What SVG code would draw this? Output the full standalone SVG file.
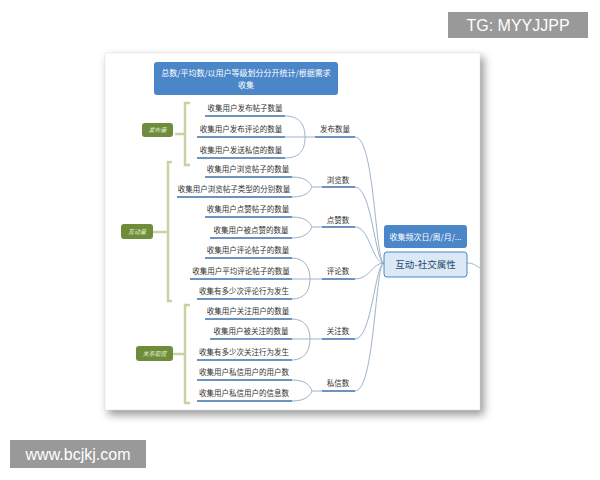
<svg xmlns="http://www.w3.org/2000/svg" width="600" height="480" viewBox="0 0 600 480">
<defs>
<filter id="sh" x="-10%" y="-10%" width="130%" height="130%"><feGaussianBlur stdDeviation="4"/></filter>
<style>
.t{font-family:"Noto Sans CJK SC",sans-serif;font-size:7.5px;fill:#333;text-anchor:middle}
.u{stroke:#3d6fa8;stroke-width:1.5}
.c{fill:none;stroke:#9fb3c8;stroke-width:1}
.b{fill:none;stroke:#c7d3a3;stroke-width:2.5}
.g{fill:#6e8d3a}
.gt{font-family:"Noto Sans CJK SC",sans-serif;font-size:6px;fill:#e8f0d8;font-style:italic;text-anchor:middle}
</style>
</defs>
<rect width="600" height="480" fill="#fff"/>
<rect x="108" y="57" width="376" height="358" fill="#999" filter="url(#sh)"/>
<rect x="105" y="53" width="375" height="357" fill="#fff" stroke="#ddd" stroke-width="0.5"/>
<g id="top"><rect x="154" y="62" width="184" height="33" rx="3" fill="#4a86c8"/>
<text x="246" y="76" class="t" style="fill:#fff;font-size:8px">总数/平均数/以用户等级划分分开统计/根据需求</text>
<text x="246" y="88" class="t" style="fill:#fff;font-size:8px">收集</text></g>
<g id="connectors">
<path class="c" d="M285,116 C300,116 305,125 305,137 M285,158 C300,158 305,150 305,137 M285,137 H315"/>
<path class="c" d="M292,177 C305,177 310,182 312,187 M292,197 C305,197 310,192 312,187 M312,187 H322"/>
<path class="c" d="M292,217 C305,217 310,222 312,227 M292,238 C305,238 310,232 312,227 M312,227 H322"/>
<path class="c" d="M292,258 C305,258 310,268 310,279 M292,299 C305,299 310,290 310,279 M292,279 H322"/>
<path class="c" d="M292,319 C305,319 310,328 310,339 M292,360 C305,360 310,350 310,339 M292,339 H322"/>
<path class="c" d="M292,380 C305,380 310,385 312,391 M292,401 C305,401 310,396 312,391 M312,391 H322"/>
<path class="c" d="M355,137 C375,137 375,263 384,263 M355,187 C372,187 375,263 384,263 M355,227 C370,227 372,263 384,263 M355,279 C370,279 372,263 384,263 M355,339 C372,339 375,263 384,263 M355,391 C375,391 375,263 384,263"/>
<path class="c" d="M467,263 C474,263 476,266 480,268"/>
<path class="b" d="M190,103 H185 V165 H190 M185,134 H175"/>
<path class="b" d="M172,162 H168 V301 H172 M168,232 H153"/>
<path class="b" d="M190,305 H185 V403 H190 M185,354 H173"/>
</g>
<g id="leaves">
<text x="245" y="111" class="t">收集用户发布帖子数量</text><line class="u" x1="205" y1="116" x2="285" y2="116"/>
<text x="241" y="132" class="t">收集用户发布评论的数量</text><line class="u" x1="197" y1="137" x2="285" y2="137"/>
<text x="241" y="153" class="t">收集用户发送私信的数量</text><line class="u" x1="197" y1="158" x2="285" y2="158"/>
<text x="248" y="172" class="t">收集用户浏览帖子的数量</text><line class="u" x1="205" y1="177" x2="292" y2="177"/>
<text x="234" y="192" class="t">收集用户浏览帖子类型的分别数量</text><line class="u" x1="177" y1="197" x2="292" y2="197"/>
<text x="248" y="212" class="t">收集用户点赞帖子的数量</text><line class="u" x1="205" y1="217" x2="292" y2="217"/>
<text x="251" y="233" class="t">收集用户被点赞的数量</text><line class="u" x1="210" y1="238" x2="292" y2="238"/>
<text x="248" y="253" class="t">收集用户评论帖子的数量</text><line class="u" x1="205" y1="258" x2="292" y2="258"/>
<text x="241" y="274" class="t">收集用户平均评论帖子的数量</text><line class="u" x1="190" y1="279" x2="292" y2="279"/>
<text x="244" y="294" class="t">收集有多少次评论行为发生</text><line class="u" x1="197" y1="299" x2="292" y2="299"/>
<text x="248" y="314" class="t">收集用户关注用户的数量</text><line class="u" x1="205" y1="319" x2="292" y2="319"/>
<text x="251" y="334" class="t">收集用户被关注的数量</text><line class="u" x1="210" y1="339" x2="292" y2="339"/>
<text x="244" y="355" class="t">收集有多少次关注行为发生</text><line class="u" x1="197" y1="360" x2="292" y2="360"/>
<text x="244" y="375" class="t">收集用户私信用户的用户数</text><line class="u" x1="197" y1="380" x2="292" y2="380"/>
<text x="244" y="396" class="t">收集用户私信用户的信息数</text><line class="u" x1="197" y1="401" x2="292" y2="401"/>
</g>
<g id="mids">
<text x="335" y="132" class="t">发布数量</text><line class="u" x1="315" y1="137" x2="355" y2="137"/>
<text x="338" y="183" class="t">浏览数</text><line class="u" x1="322" y1="187" x2="355" y2="187"/>
<text x="338" y="223" class="t">点赞数</text><line class="u" x1="322" y1="227" x2="355" y2="227"/>
<text x="338" y="274" class="t">评论数</text><line class="u" x1="322" y1="279" x2="355" y2="279"/>
<text x="338" y="334" class="t">关注数</text><line class="u" x1="322" y1="339" x2="355" y2="339"/>
<text x="338" y="386" class="t">私信数</text><line class="u" x1="322" y1="391" x2="355" y2="391"/>
</g>
<g id="groups">
<rect class="g" x="142" y="123" width="31" height="14" rx="3"/><text class="gt" x="157.5" y="132">发布量</text>
<rect class="g" x="121" y="224" width="32" height="15" rx="3"/><text class="gt" x="137" y="234">互动量</text>
<rect class="g" x="136" y="346" width="37" height="15" rx="3"/><text class="gt" x="154.5" y="356">关系密度</text>
</g>
<g id="freq"><rect x="384" y="225" width="83" height="23" rx="3" fill="#4a86c8"/>
<text x="425.5" y="240" class="t" style="fill:#fff;font-size:8px">收集频次日/周/月/...</text></g>
<g id="root"><rect x="384" y="252" width="83" height="25" rx="3" fill="#dbe8f5" stroke="#4a86c8" stroke-width="1"/>
<text x="425.5" y="268" class="t" style="font-size:9.5px;fill:#2a4a6e">互动-社交属性</text></g>
<g id="wm1"><rect x="448" y="12" width="140" height="26" fill="#999"/>
<text x="518" y="31" style="font-family:'Liberation Sans',sans-serif;font-size:16px;fill:#fff;text-anchor:middle">TG: MYYJJPP</text></g>
<g id="wm2"><rect x="10" y="440" width="136" height="28" fill="#999"/>
<text x="78" y="460" style="font-family:'Liberation Sans',sans-serif;font-size:16px;fill:#fff;text-anchor:middle">www.bcjkj.com</text></g>
</svg>
